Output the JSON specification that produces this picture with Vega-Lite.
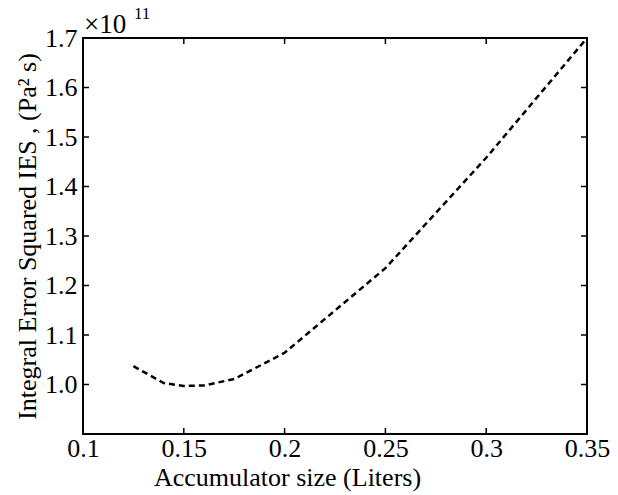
{
  "$schema": "https://vega.github.io/schema/vega-lite/v6.json",
  "width": 504,
  "height": 396,
  "autosize": {"type": "none"},
  "padding": {"left": 83, "top": 38, "right": 31, "bottom": 61},
  "background": "white",
  "config": {
    "view": {"stroke": "black", "strokeWidth": 2},
    "axis": {"labelFont": "Liberation Serif", "titleFont": "Liberation Serif", "labelFontSize": 26, "titleFontSize": 26, "titleFontWeight": "normal", "labelColor": "black", "titleColor": "black", "grid": false, "domain": false, "ticks": true, "tickOpacity": 0, "tickColor": "black", "tickWidth": 2, "tickSize": 7, "offset": -7, "zindex": 1}
  },
  "datasets": {
    "curve": [
      {"x": 0.125, "y": 1.037},
      {"x": 0.14, "y": 1.003},
      {"x": 0.15, "y": 0.997},
      {"x": 0.16, "y": 0.998},
      {"x": 0.175, "y": 1.011},
      {"x": 0.2, "y": 1.064},
      {"x": 0.25, "y": 1.235},
      {"x": 0.3, "y": 1.458},
      {"x": 0.35, "y": 1.7}
    ],
    "xticks": [{"v": 0.15}, {"v": 0.2}, {"v": 0.25}, {"v": 0.3}],
    "yticks": [{"v": 1.0}, {"v": 1.1}, {"v": 1.2}, {"v": 1.3}, {"v": 1.4}, {"v": 1.5}, {"v": 1.6}],
    "exponent": [{"x": 0.1, "y": 1.7, "base": "×10", "power": "11"}]
  },
  "layer": [
    {
      "data": {"name": "curve"},
      "mark": {"type": "line", "color": "black", "strokeWidth": 2.5, "strokeDash": [6, 4]},
      "encoding": {
        "x": {"field": "x", "type": "quantitative", "scale": {"domain": [0.1, 0.35], "nice": false, "zero": false},
              "axis": {"values": [0.1, 0.15, 0.2, 0.25, 0.3, 0.35], "format": "~g", "labelPadding": 1, "title": "Accumulator size (Liters)", "titleX": 204, "titlePadding": 3, "labelFlush": false}},
        "y": {"field": "y", "type": "quantitative", "scale": {"domain": [0.9, 1.7], "nice": false, "zero": false},
              "axis": {"values": [1.0, 1.1, 1.2, 1.3, 1.4, 1.5, 1.6, 1.7], "format": ".1f", "labelPadding": 6, "title": "Integral Error Squared IES , (Pa² s)", "titlePadding": 4, "labelFlush": false}}
      }
    },
    {
      "data": {"name": "xticks"},
      "mark": {"type": "tick", "orient": "vertical", "color": "black", "size": 12, "thickness": 1.5, "clip": true, "opacity": 1},
      "encoding": {"x": {"field": "v", "type": "quantitative", "axis": null}, "y": {"datum": 0.9, "type": "quantitative", "axis": null}}
    },
    {
      "data": {"name": "xticks"},
      "mark": {"type": "tick", "orient": "vertical", "color": "black", "size": 12, "thickness": 1.5, "clip": true, "opacity": 1},
      "encoding": {"x": {"field": "v", "type": "quantitative", "axis": null}, "y": {"datum": 1.7, "type": "quantitative", "axis": null}}
    },
    {
      "data": {"name": "yticks"},
      "mark": {"type": "tick", "orient": "horizontal", "color": "black", "size": 12, "thickness": 1.5, "clip": true, "opacity": 1},
      "encoding": {"y": {"field": "v", "type": "quantitative", "axis": null}, "x": {"datum": 0.1, "type": "quantitative", "axis": null}}
    },
    {
      "data": {"name": "yticks"},
      "mark": {"type": "tick", "orient": "horizontal", "color": "black", "size": 12, "thickness": 1.5, "clip": true, "opacity": 1},
      "encoding": {"y": {"field": "v", "type": "quantitative", "axis": null}, "x": {"datum": 0.35, "type": "quantitative", "axis": null}}
    },
    {
      "data": {"name": "exponent"},
      "mark": {"type": "text", "font": "Liberation Serif", "fontSize": 27, "fontWeight": "normal", "align": "left", "baseline": "alphabetic", "dx": 1, "dy": -5, "color": "black"},
      "encoding": {"x": {"field": "x", "type": "quantitative", "axis": null}, "y": {"field": "y", "type": "quantitative", "axis": null}, "text": {"field": "base"}}
    },
    {
      "data": {"name": "exponent"},
      "mark": {"type": "text", "font": "Liberation Serif", "fontSize": 17, "fontWeight": "normal", "align": "left", "baseline": "alphabetic", "dx": 51, "dy": -19, "color": "black"},
      "encoding": {"x": {"field": "x", "type": "quantitative", "axis": null}, "y": {"field": "y", "type": "quantitative", "axis": null}, "text": {"field": "power"}}
    }
  ],
  "resolve": {"axis": {"x": "independent", "y": "independent"}}
}
